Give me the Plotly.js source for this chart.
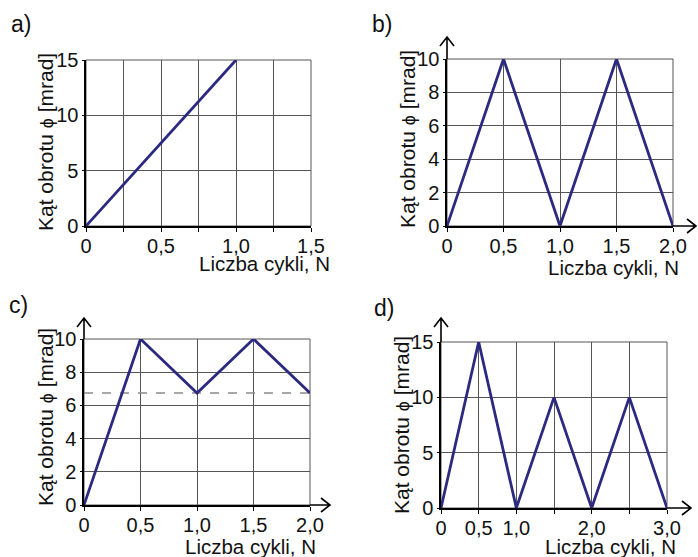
<!DOCTYPE html>
<html>
<head>
<meta charset="utf-8">
<script src="https://cdn.plot.ly/plotly-3.0.1.min.js"></script>
<style>
  html, body { margin: 0; padding: 0; background: #fff; }
  #chart { width: 698px; height: 557px; }
</style>
</head>
<body>
<div id="chart"></div>
<script>
// Rotation angle vs. number of cycles, four loading cases a) - d)
const xA = [0, 1.0];
const yA = [0, 15];

const xB = [0, 0.5, 1.0, 1.5, 2.0];
const yB = [0, 10, 0, 10, 0];

const xC = [0, 0.5, 1.0, 1.5, 2.0];
const yC = [0, 10, 6.75, 10, 6.75];
const levelC = 6.75;

const xD = [0, 0.5, 1.0, 1.5, 2.0, 2.5, 3.0];
const yD = [0, 15, 0, 10, 0, 10, 0];

const xTicksA = [0, 0.5, 1.0, 1.5];
const xTextA = ['0', '0,5', '1,0', '1,5'];
const xTicksB = [0, 0.5, 1.0, 1.5, 2.0];
const xTextB = ['0', '0,5', '1,0', '1,5', '2,0'];
const xTicksD = [0, 0.5, 1.0, 2.0, 3.0];
const xTextD = ['0', '0,5', '1,0', '2,0', '3,0'];
const yTicks15 = [0, 5, 10, 15];
const yTicks10 = [0, 2, 4, 6, 8, 10];

const panelLabels = ['a)', 'b)', 'c)', 'd)'];
const xTitle = 'Liczba cykli, N';
const yTitle = 'Kąt obrotu <span style="font-size:18px">ϕ</span> [mrad]';

const W = 698, H = 557;
const px = v => v / W;
const py = v => 1 - v / H;

const FONT = 'Arial, "Liberation Sans", Helvetica, sans-serif';
const LINE = '#2b2a80';
const GRID = '#555555';

function lineTrace(x, y, xa, ya) {
  return {
    x: x, y: y, xaxis: xa, yaxis: ya, type: 'scatter', mode: 'lines',
    line: { color: LINE, width: 2.8 }, cliponaxis: false, hoverinfo: 'skip'
  };
}

const traces = [
  lineTrace(xA, yA, 'x', 'y'),
  lineTrace(xB, yB, 'x2', 'y2'),
  {
    x: [xC[0], xC[xC.length - 1]], y: [levelC, levelC], xaxis: 'x3', yaxis: 'y3',
    type: 'scatter', mode: 'lines', line: { color: '#8a8a8a', width: 1.4, dash: 'dash' },
    hoverinfo: 'skip'
  },
  lineTrace(xC, yC, 'x3', 'y3'),
  lineTrace(xD, yD, 'x4', 'y4')
];

const tickFont = { family: FONT, size: 20, color: '#111' };

function xAxis(domain, range, tickvals, ticktext, anchor) {
  return {
    domain: domain, range: range, anchor: anchor,
    tickmode: 'array', tickvals: tickvals, ticktext: ticktext,
    showgrid: true, gridcolor: GRID, gridwidth: 1,
    zeroline: false, showline: true, linecolor: '#000', linewidth: 1.6,
    ticks: 'outside', ticklen: 4, tickcolor: '#000', tickwidth: 1,
    ticklabelstandoff: -3,
    tickfont: tickFont, fixedrange: true
  };
}
function yAxis(domain, range, tickvals, anchor) {
  return {
    domain: domain, range: range, anchor: anchor,
    tickmode: 'array', tickvals: tickvals, ticktext: tickvals.map(String),
    showgrid: true, gridcolor: GRID, gridwidth: 1,
    zeroline: false, showline: true, linecolor: '#000', linewidth: 1.6,
    ticks: 'outside', ticklen: 2, tickcolor: '#000',
    tickfont: tickFont, fixedrange: true
  };
}

const domXA = [px(86), px(311)],  domYA = [py(226), py(60)];
const domXB = [px(447), px(673)], domYB = [py(226), py(59)];
const domXC = [px(84), px(310)],  domYC = [py(505), py(339)];
const domXD = [px(441), px(667)], domYD = [py(508), py(342)];

const xa = xAxis(domXA, [0, 1.5], xTicksA, xTextA, 'y');
xa.minor = { dtick: 0.25, tick0: 0, showgrid: true, gridcolor: GRID, gridwidth: 1, ticks: 'outside', ticklen: 4, tickcolor: '#000' };
const xb = xAxis(domXB, [0, 2], xTicksB, xTextB, 'y2');
const xc = xAxis(domXC, [0, 2], xTicksB, xTextB, 'y3');
const xd = xAxis(domXD, [0, 3], xTicksD, xTextD, 'y4');
xd.minor = { dtick: 0.5, tick0: 0, showgrid: true, gridcolor: GRID, gridwidth: 1, ticks: 'outside', ticklen: 4, tickcolor: '#000' };

const ya = yAxis(domYA, [0, 15], yTicks15, 'x');
const yb = yAxis(domYB, [0, 10], yTicks10, 'x2');
const yc = yAxis(domYC, [0, 10], yTicks10, 'x3');
const yd = yAxis(domYD, [0, 15], yTicks15, 'x4');

// plot frames (top and right edges)
const frames = ['', '2', '3', '4'].map(s => ({
  type: 'rect', xref: 'x' + s + ' domain', yref: 'y' + s + ' domain',
  x0: 0, x1: 1, y0: 0, y1: 1, line: { color: GRID, width: 1 }, layer: 'below'
}));

// open arrowheads extending the axes of panels b, c, d (pixel offsets from the axis ends)
function axisArrows(dx, dy, lenX, lenY) {
  const st = { color: '#000', width: 1.6 };
  return [
    { type: 'path', xref: 'paper', yref: 'paper', xsizemode: 'pixel', ysizemode: 'pixel',
      xanchor: dx[1], yanchor: dy[0],
      path: `M0,0 L${lenX},0 M${lenX - 9},7 L${lenX},0 L${lenX - 9},-7`, line: st },
    { type: 'path', xref: 'paper', yref: 'paper', xsizemode: 'pixel', ysizemode: 'pixel',
      xanchor: dx[0], yanchor: dy[1],
      path: `M0,0 L0,${lenY} M-7,${lenY - 9} L0,${lenY} L7,${lenY - 9}`, line: st }
  ];
}

const shapes = frames
  .concat(axisArrows(domXB, domYB, 23, 22))
  .concat(axisArrows(domXC, domYC, 20, 21))
  .concat(axisArrows(domXD, domYD, 24, 24));

const xTitleFont = { family: FONT, size: 20.5, color: '#111' };
const yTitleFont = { family: FONT, size: 21, color: '#111' };
const labelFont = { family: FONT, size: 23, color: '#111' };
function ann(text, x, y, xanchor, font, angle) {
  return {
    text: text, xref: 'paper', yref: 'paper', x: px(x), y: py(y),
    xanchor: xanchor, yanchor: 'middle', showarrow: false, font: font,
    textangle: angle || 0
  };
}

const annotations = [
  ann(panelLabels[0], 9, 24, 'left', labelFont),
  ann(panelLabels[1], 370, 24, 'left', labelFont),
  ann(panelLabels[2], 7, 305, 'left', labelFont),
  ann(panelLabels[3], 372, 308, 'left', labelFont),
  ann(xTitle, 332, 263, 'right', xTitleFont),
  ann(xTitle, 681, 267, 'right', xTitleFont),
  ann(xTitle, 318, 546, 'right', xTitleFont),
  ann(xTitle, 678, 546, 'right', xTitleFont),
  ann(yTitle, 45, 142, 'center', yTitleFont, -90),
  ann(yTitle, 407, 139, 'center', yTitleFont, -90),
  ann(yTitle, 45, 417, 'center', yTitleFont, -90),
  ann(yTitle, 401, 425, 'center', yTitleFont, -90)
];

const layout = {
  width: W, height: H,
  margin: { l: 0, r: 0, t: 0, b: 0 },
  paper_bgcolor: '#fff', plot_bgcolor: '#fff',
  showlegend: false,
  font: { family: FONT, color: '#111' },
  xaxis: xa, yaxis: ya,
  xaxis2: xb, yaxis2: yb,
  xaxis3: xc, yaxis3: yc,
  xaxis4: xd, yaxis4: yd,
  shapes: shapes,
  annotations: annotations
};

Plotly.newPlot('chart', traces, layout, { displayModeBar: false, staticPlot: true });
</script>
</body>
</html>
